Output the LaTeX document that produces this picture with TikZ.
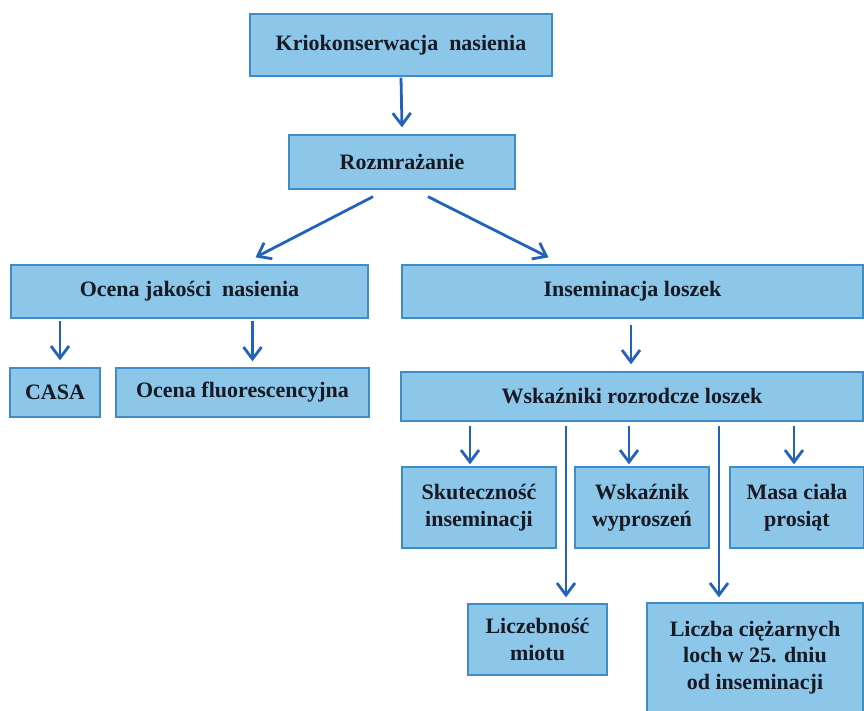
\documentclass[tikz,border=0pt]{standalone}
\usepackage{fontspec}
\setmainfont{Liberation Serif}
\usetikzlibrary{arrows.meta}
\definecolor{boxfill}{RGB}{140,198,232}
\definecolor{boxline}{RGB}{62,140,200}
\definecolor{arrcol}{RGB}{35,98,185}
\definecolor{txt}{RGB}{25,25,35}
\tikzset{
  box/.style={draw=boxline, fill=boxfill, line width=1.3pt, inner sep=0pt, align=center,
    text=txt, font=\fontsize{22}{26.5}\selectfont\bfseries},
  arr/.style={draw=arrcol, line width=2.8pt, -{Straight Barb[length=12pt,width=18pt,line width=2.8pt]}},
}
\begin{document}
\begin{tikzpicture}[x=1pt,y=-1pt]
\useasboundingbox (0,0) rectangle (864,710);
\clip (0,0) rectangle (864,710);
\node[box, minimum width=302, minimum height=62] (krio) at (401,45) {Kriokonserwacja\ \ nasienia};
\node[box, minimum width=226, minimum height=54] (rozm) at (402,162) {Rozmrażanie};
\node[box, minimum width=357, minimum height=53] (ocena) at (189.5,291.5) {Ocena jakości\ \ nasienia};
\node[box, minimum width=461, minimum height=53] (insem) at (632.5,291.5) {Inseminacja loszek};
\node[box, minimum width=90, minimum height=49] (casa) at (55,392.5) {CASA};
\node[box, minimum width=253, minimum height=49] (fluor) at (242.5,392.5) {Ocena fluorescencyjna};
\node[box, minimum width=462, minimum height=49] (wsk) at (632,396.5) {Wskaźniki rozrodcze loszek};
\node[box, minimum width=154, minimum height=81] (skut) at (479,507.5) {Skuteczność\\inseminacji};
\node[box, minimum width=134, minimum height=81] (wypr) at (642,507.5) {Wskaźnik\\wyproszeń};
\node[box, minimum width=134, minimum height=81] (masa) at (797,507.5) {Masa ciała\\prosiąt};
\node[box, minimum width=139, minimum height=71] (licz) at (537.5,639.5) {Liczebność\\miotu};
\node[box, minimum width=216, minimum height=109] (ciez) at (755,657.5) {Liczba ciężarnych\\loch w 25. dniu\\od inseminacji};

\draw[arr] ([yshift=-1]krio.south) -- ([yshift=7]rozm.north);
\draw[arr] ([xshift=-29,yshift=-7]rozm.south) -- ([xshift=66,yshift=7]ocena.north);
\draw[arr] ([xshift=26,yshift=-7]rozm.south) -- ([xshift=-84,yshift=7]insem.north);
\draw[arr] (ocena.south -| casa.north) ++(5,2) -- ([xshift=5,yshift=7]casa.north);
\draw[arr] (ocena.south -| fluor.north) ++(10,2) -- ([xshift=10,yshift=6]fluor.north);
\draw[arr] ([xshift=-1.5,yshift=-6]insem.south) -- ([xshift=-1,yshift=7]wsk.north);
\draw[arr] (wsk.south -| skut.north) ++(-9,4) -- ([xshift=-9,yshift=2]skut.north);
\draw[arr] (wsk.south -| wypr.north) ++(-13,4) -- ([xshift=-13,yshift=2]wypr.north);
\draw[arr] (wsk.south -| masa.north) ++(-3,4) -- ([xshift=-3,yshift=2]masa.north);
\draw[arr] (wsk.south -| licz.north) ++(28.5,4) -- ([xshift=28.5,yshift=6]licz.north);
\draw[arr] (wsk.south -| ciez.north) ++(-36,4) -- ([xshift=-36,yshift=5]ciez.north);
\end{tikzpicture}
\end{document}
